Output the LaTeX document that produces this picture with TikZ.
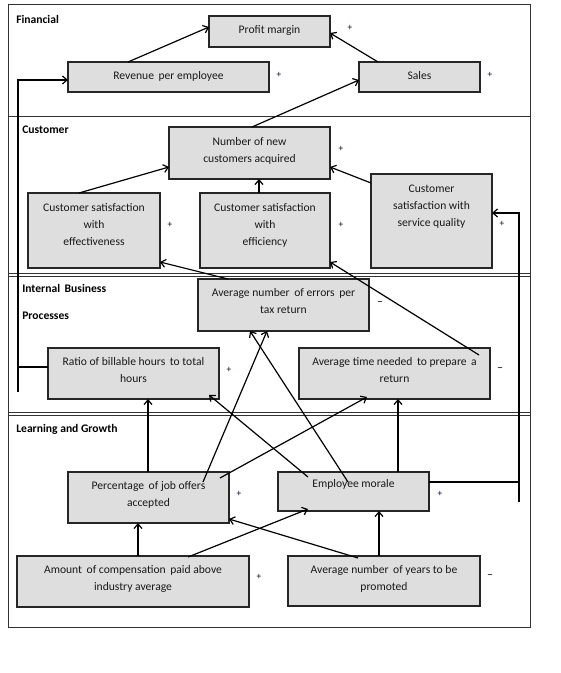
\documentclass[tikz,border=0pt]{standalone}
\usepackage{fontspec}
\setmainfont{Carlito}
\usetikzlibrary{arrows.meta,calc}
\tikzset{
  box/.style={draw=black!85, line width=1.1pt, fill=black!13, rectangle, anchor=north west, inner sep=0pt, outer sep=0pt},
  txt/.style={anchor=north, align=center, inner sep=0pt, text=black!90, font=\fontsize{8.7}{12.75}\selectfont},
  sect/.style={anchor=base west, inner sep=0pt, font=\fontsize{8.7}{12.75}\selectfont\bfseries},
  sgn/.style={inner sep=0pt, font=\fontsize{7}{8}\selectfont, text=black!80!blue},
  dsh/.style={inner sep=0pt, font=\fontsize{9}{10}\selectfont, text=black},
  frame/.style={draw=black!80, line width=0.75pt},
  conn/.style={draw=black, line width=0.9pt},
  arr/.style={conn, -{Straight Barb[length=3.5pt,width=6pt]}}
}
\begin{document}
\begin{tikzpicture}[x=0.75pt,y=-0.75pt]
\useasboundingbox[fill=white] (0,0) rectangle (560,673);
% frame and dividers
\draw[frame] (8,5) rectangle (530,627);
\draw[frame] (8,117) -- (530,117);
\draw[frame, line width=0.6pt] (8,273.5) -- (530,273.5);
\draw[frame, line width=0.6pt] (8,276.5) -- (530,276.5);
\draw[frame, line width=0.6pt] (8,412.5) -- (530,412.5);
\draw[frame, line width=0.6pt] (8,415.5) -- (530,415.5);
% section labels
\node[sect] (lfin) at (16,24) {Financial};
\node[sect] (lcus) at (22,134) {Customer};
\node[sect] (lint) at (22,292) {Internal\ \,Business};
\node[sect] (lpro) at (22,319) {Processes};
\node[sect] (llg) at (16,432) {Learning and Growth};
% boxes
\node[box, minimum width=121*0.75pt, minimum height=31*0.75pt] (pm) at (209,16) {};
\node[box, minimum width=201*0.75pt, minimum height=30*0.75pt] (rev) at (68,62) {};
\node[box, minimum width=121*0.75pt, minimum height=30*0.75pt] (sales) at (359,62) {};
\node[box, minimum width=161*0.75pt, minimum height=52*0.75pt] (ncust) at (169,127) {};
\node[box, minimum width=132*0.75pt, minimum height=75*0.75pt] (eff) at (28,193) {};
\node[box, minimum width=130*0.75pt, minimum height=75*0.75pt] (effi) at (200,193) {};
\node[box, minimum width=121*0.75pt, minimum height=94*0.75pt] (sq) at (371,174) {};
\node[box, minimum width=171*0.75pt, minimum height=52*0.75pt] (err) at (198,279) {};
\node[box, minimum width=171*0.75pt, minimum height=51*0.75pt] (ratio) at (48,348) {};
\node[box, minimum width=191*0.75pt, minimum height=51*0.75pt] (time) at (299,348) {};
\node[box, minimum width=161*0.75pt, minimum height=51*0.75pt] (pct) at (68,472) {};
\node[box, minimum width=151*0.75pt, minimum height=39*0.75pt] (mor) at (278,472) {};
\node[box, minimum width=232*0.75pt, minimum height=51*0.75pt] (comp) at (17,556) {};
\node[box, minimum width=192*0.75pt, minimum height=50*0.75pt] (yrs) at (288,556) {};
% box texts
\node[txt] (pm-t) at ($(pm.north)+(0,9)$) {Profit margin};
\node[txt] (rev-t) at ($(rev.north)+(0,9.5)$) {Revenue\ \,per employee};
\node[txt] (sales-t) at ($(sales.north)+(0,9.5)$) {Sales};
\node[txt] (ncust-t) at ($(ncust.north)+(0,10)$) {Number of new\\customers acquired};
\node[txt] (eff-t) at ($(eff.north)+(0,10)$) {Customer satisfaction\\with\\effectiveness};
\node[txt] (effi-t) at ($(effi.north)+(0,10)$) {Customer satisfaction\\with\\efficiency};
\node[txt] (sq-t) at ($(sq.north)+(0,11)$) {Customer\\satisfaction with\\service quality};
\node[txt] (err-t) at ($(err.north)+(0,9.5)$) {Average number\ \,of errors\ \,per\\tax return};
\node[txt] (ratio-t) at ($(ratio.north)+(0,9.5)$) {Ratio of billable hours\ \,to total\\hours};
\node[txt] (time-t) at ($(time.north)+(0,9.5)$) {Average time needed\ \,to prepare\ \,a\\return};
\node[txt] (pct-t) at ($(pct.north)+(0,9.5)$) {Percentage\ \,of job offers\\accepted};
\node[txt] (mor-t) at ($(mor.north)+(0,7.5)$) {Employee morale};
\node[txt] (comp-t) at ($(comp.north)+(0,9.5)$) {Amount\ \,of compensation\ \,paid above\\industry average};
\node[txt] (yrs-t) at ($(yrs.north)+(0,9.5)$) {Average number\ \,of years to be\\promoted};
% signs
\node[sgn] (s1) at (350,28) {+};
\node[sgn] (s2) at (279,75) {+};
\node[sgn] (s3) at (490,75) {+};
\node[sgn] (s4) at (341,149) {+};
\node[sgn] (s5) at (170,225) {+};
\node[sgn] (s6) at (341,225) {+};
\node[sgn] (s7) at (502,224) {+};
\node[dsh] (s8) at (380,304) {\textendash};
\node[sgn] (s9) at (229,370) {+};
\node[dsh] (s10) at (500,370) {\textendash};
\node[sgn] (s11) at (239,494) {+};
\node[sgn] (s12) at (440,494) {+};
\node[sgn] (s13) at (259,577) {+};
\node[dsh] (s14) at (490,577) {\textendash};
% connectors
\draw[arr] ($(rev.north west)+(60,0)$) -- ($(pm.north west)+(0,11)$);
\draw[arr] ($(sales.north west)+(19,0)$) -- ($(pm.north east)+(0,17)$);
\draw[arr] ($(ncust.north west)+(83,0)$) -- ($(sales.north west)+(0,18)$);
% left loop
\coordinate (lbot) at (18,392);
\coordinate (ltop) at (18,80);
\draw[conn] ($(ratio.north west)+(0,19)$) -- ($(lbot)+(0,-25)$);
\draw[arr] (lbot) -- (ltop) -- ($(rev.north west)+(0,18)$);
\draw[arr] ($(eff.north west)+(51,0)$) -- ($(ncust.north west)+(0,40)$);
\draw[arr] ($(effi.north west)+(59,0)$) -- ($(ncust.south west)+(90,0)$);
\draw[arr] ($(sq.north west)+(0,9)$) -- ($(ncust.north east)+(0,40)$);
\draw[arr] ($(err.north west)+(30,0)$) -- ($(eff.south east)+(0,-6)$);
\draw[arr] ($(time.north east)+(-11,7)$) -- ($(effi.south east)+(0,-6)$);
\draw[arr] ($(pct.north west)+(80,0)$) -- ($(ratio.south west)+(100,0)$);
\draw[arr] ($(pct.north west)+(135,10)$) -- ($(err.south west)+(69,0)$);
\draw[arr] ($(pct.north east)+(-9,6)$) -- ($(time.south west)+(68,-2)$);
\draw[arr] ($(mor.north west)+(30,5)$) -- ($(ratio.south east)+(-10,-4)$);
\draw[arr] ($(mor.north west)+(70,10)$) -- ($(err.south west)+(52,0)$);
\draw[arr] ($(mor.north west)+(120,0)$) -- ($(time.south west)+(99,0)$);
\coordinate (rbot) at (519,502);
\coordinate (rtop) at (519,213);
\draw[conn] ($(mor.north east)+(0,10)$) -- ($(rbot)+(0,-20)$);
\draw[arr] (rbot) -- (rtop) -- ($(sq.north east)+(0,39)$);
\draw[arr] ($(comp.north west)+(121,0)$) -- ($(pct.south west)+(70,0)$);
\draw[arr] ($(comp.north west)+(171,1)$) -- ($(mor.south west)+(30,-2)$);
\draw[arr] ($(yrs.north west)+(70,2)$) -- ($(pct.south east)+(0,-4)$);
\draw[arr] ($(yrs.north west)+(91,0)$) -- ($(mor.south west)+(101,0)$);
\end{tikzpicture}
\end{document}
